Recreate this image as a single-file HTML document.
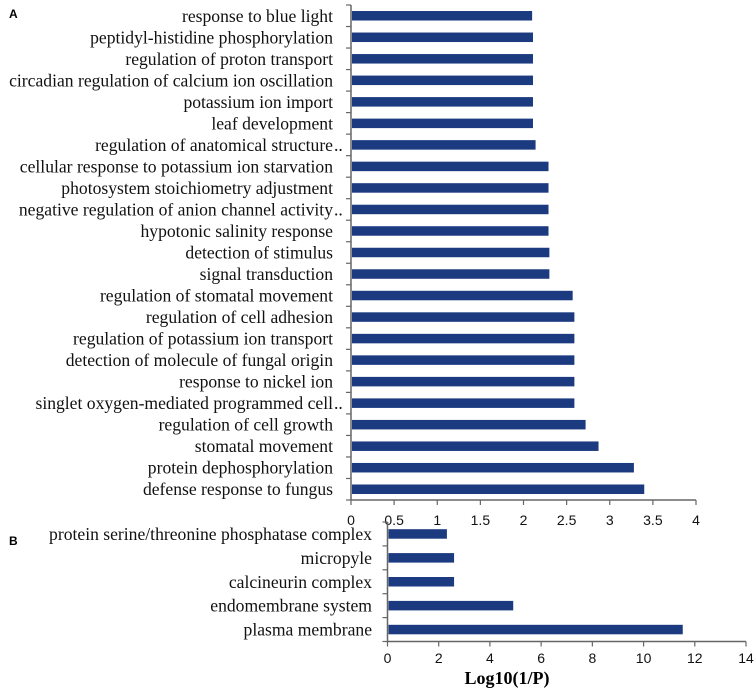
<!DOCTYPE html>
<html><head><meta charset="utf-8"><style>
html,body{margin:0;padding:0;background:#fff;}
svg{display:block;}
.lab{font-family:"Liberation Serif",serif;font-size:17.6px;fill:#111;}
.tick{font-family:"Liberation Sans",sans-serif;font-size:14px;fill:#111;}
</style></head><body>
<svg id="chart" width="756" height="691" viewBox="0 0 756 691">
<text x="9" y="18" font-family="Liberation Sans,sans-serif" font-weight="bold" font-size="12">A</text>
<text x="9" y="545" font-family="Liberation Sans,sans-serif" font-weight="bold" font-size="12">B</text>
<g id="pa"></g>
<g id="pb"></g>
<text x="507" y="684" text-anchor="middle" font-family="Liberation Serif,serif" font-weight="bold" font-size="18">Log10(1/P)</text>
</svg>
<script>
const catsA = ["response to blue light","peptidyl-histidine phosphorylation","regulation of proton transport","circadian regulation of calcium ion oscillation","potassium ion import","leaf development","regulation of anatomical structure..","cellular response to potassium ion starvation","photosystem stoichiometry adjustment","negative regulation of anion channel activity..","hypotonic salinity response","detection of stimulus","signal transduction","regulation of stomatal movement","regulation of cell adhesion","regulation of potassium ion transport","detection of molecule of fungal origin","response to nickel ion","singlet oxygen-mediated programmed cell..","regulation of cell growth","stomatal movement","protein dephosphorylation","defense response to fungus"];
const valsA = [2.10,2.11,2.11,2.11,2.11,2.11,2.14,2.29,2.29,2.29,2.29,2.30,2.30,2.57,2.59,2.59,2.59,2.59,2.59,2.72,2.87,3.28,3.40];
const ticksA = [0,0.5,1,1.5,2,2.5,3,3.5,4];
const catsB = ["protein serine/threonine phosphatase complex","micropyle","calcineurin complex","endomembrane system","plasma membrane"];
const valsB = [2.32,2.6,2.6,4.91,11.53];
const ticksB = [0,2,4,6,8,10,12,14];
const NS="http://www.w3.org/2000/svg";
function mk(p,tag,at){const e=document.createElementNS(NS,tag);for(const k in at)e.setAttribute(k,at[k]);p.appendChild(e);return e;}
function panel(g,cats,vals,ticks,x0,x1,y0,y1,labX,tickY,barH,pfx){
  const max=ticks[ticks.length-1];
  const sx=v=>x0+(v/max)*(x1-x0);
  const band=(y1-y0)/cats.length;
  const ax=mk(g,"path",{d:`M${x0},${y0}V${y1}H${x1}`,stroke:"#666","stroke-width":1.5,fill:"none"});
  
  
  for(let i=0;i<=cats.length;i++){const y=y0+i*band;mk(g,"line",{x1:x0-5,x2:x0,y1:y,y2:y,stroke:"#666","stroke-width":1.2});}
  ticks.forEach(t=>{const x=sx(t);mk(g,"line",{x1:x,x2:x,y1:y1,y2:y1+5,stroke:"#666","stroke-width":1.2});
    const tx=mk(g,"text",{x:x,y:tickY,"text-anchor":"middle",class:"tick"});tx.textContent=t;
    
    });
  cats.forEach((c,i)=>{const cy=y0+(i+0.5)*band;
    const r=mk(g,"rect",{x:x0+1,y:cy-barH/2,width:sx(vals[i])-x0-1,height:barH,fill:"#1b3a80"});
    
    
    let txt=c,dots=false;if(c.endsWith("..")){txt=c.slice(0,-2);dots=true;}
    const t=mk(g,"text",{x:labX,y:cy+6,"text-anchor":"end",class:"lab"});t.textContent=txt;
    
    
    if(dots){const d=mk(g,"text",{x:labX+1,y:cy+6,class:"lab"});d.textContent="..";}
  });
}
panel(document.getElementById("pa"),catsA,valsA,ticksA,351,696,5,500,333,525,9.5,"a");
panel(document.getElementById("pb"),catsB,valsB,ticksB,387.5,746,522,641.5,372,663,9.5,"b");
</script>
</body></html>
